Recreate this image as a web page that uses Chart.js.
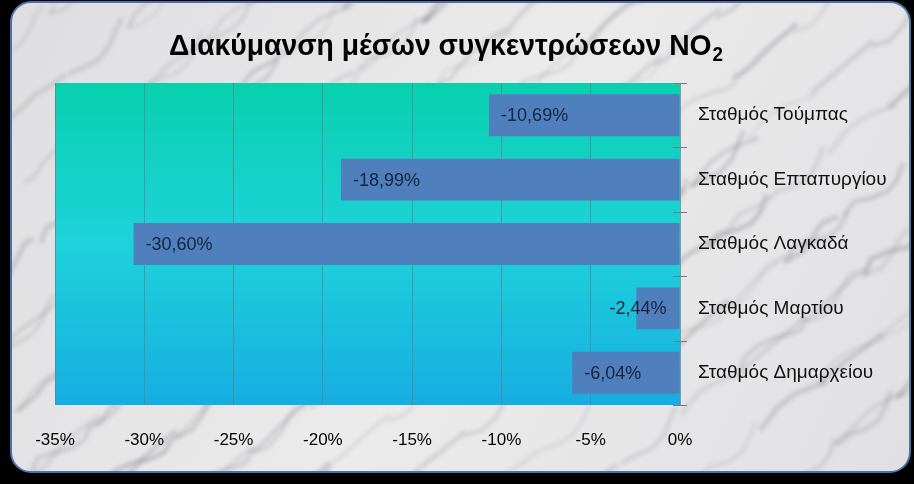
<!DOCTYPE html>
<html>
<head>
<meta charset="utf-8">
<script src="https://cdn.jsdelivr.net/npm/chart.js@4.4.1/dist/chart.umd.min.js"></script>
<style>
  html, body { margin: 0; padding: 0; background: #000; }
  #wrap { width: 914px; height: 484px; }
</style>
</head>
<body>
<div id="wrap"><canvas id="no2Chart" width="914" height="484"></canvas></div>
<script>
const stations = ["Σταθμός Τούμπας", "Σταθμός Επταπυργίου", "Σταθμός Λαγκαδά", "Σταθμός Μαρτίου", "Σταθμός Δημαρχείου"];
const changes = [-10.69, -18.99, -30.60, -2.44, -6.04];
const xTicks = [-35, -30, -25, -20, -15, -10, -5, 0];
const titleMain = "Διακύμανση μέσων συγκεντρώσεων NO";
const titleSub = "2";

function fmtPct(v) {
    return v.toFixed(2).replace(".", ",") + "%";
}

// panel, marble-ish texture, plot gradient and title
const backdrop = {
    id: "backdrop",
    beforeDraw(chart) {
        const ctx = chart.ctx;
        const area = chart.chartArea;
        ctx.save();
        ctx.fillStyle = "#000";
        ctx.fillRect(0, 0, chart.width, chart.height);

        ctx.beginPath();
        ctx.roundRect(11, 2, 899, 470, 20);
        const g = ctx.createLinearGradient(0, 0, 914, 484);
        g.addColorStop(0, "#dedee0");
        g.addColorStop(0.5, "#ebebec");
        g.addColorStop(1, "#e0e0e2");
        ctx.fillStyle = g;
        ctx.fill();

        ctx.save();
        ctx.clip();
        ctx.filter = "blur(2px)";
        for (let i = 0; i < 160; i++) {
            const sx = (i * 173) % 960 - 30;
            const sy = (i * 89) % 520;
            ctx.beginPath();
            ctx.moveTo(sx, sy);
            for (let k = 1; k <= 5; k++) {
                ctx.lineTo(sx + k * 12 + Math.sin(i + k) * 7, sy - k * 10 + Math.cos(i * 2 + k) * 6);
            }
            ctx.strokeStyle = "rgba(105,105,112," + (0.16 + (i % 4) * 0.06) + ")";
            ctx.lineWidth = 2 + (i % 3);
            ctx.stroke();
        }
        ctx.filter = "none";
        ctx.restore();

        ctx.beginPath();
        ctx.roundRect(11, 2, 899, 470, 20);
        ctx.strokeStyle = "#4a72a8";
        ctx.lineWidth = 2;
        ctx.stroke();

        const pg = ctx.createLinearGradient(0, area.top, 0, area.bottom);
        pg.addColorStop(0, "#08d0ae");
        pg.addColorStop(0.5, "#1ed2da");
        pg.addColorStop(1, "#16ade2");
        ctx.fillStyle = pg;
        ctx.fillRect(area.left, area.top, area.right - area.left, area.bottom - area.top);

        // title with subscript, slightly condensed like the original
        ctx.fillStyle = "#000";
        ctx.textBaseline = "alphabetic";
        ctx.textAlign = "left";
        ctx.font = "bold 30px 'Liberation Sans', Arial, sans-serif";
        const wMain = ctx.measureText(titleMain).width;
        ctx.font = "bold 20px 'Liberation Sans', Arial, sans-serif";
        const wSub = ctx.measureText(titleSub).width;
        const sx = 554 / (wMain + wSub + 1);
        ctx.translate(446 - 277, 0);
        ctx.scale(sx, 1);
        ctx.font = "bold 30px 'Liberation Sans', Arial, sans-serif";
        ctx.fillText(titleMain, 0, 55);
        ctx.font = "bold 20px 'Liberation Sans', Arial, sans-serif";
        ctx.fillText(titleSub, wMain + 1, 61);
        ctx.restore();
    }
};

// value labels and category tick marks
const barLabels = {
    id: "barLabels",
    afterDatasetsDraw(chart) {
        const ctx = chart.ctx;
        const yScale = chart.scales.y;
        const xScale = chart.scales.x;
        ctx.save();
        ctx.strokeStyle = "#6f7f86";
        ctx.lineWidth = 1;
        const x0 = xScale.getPixelForValue(0);
        for (let i = -1; i < stations.length; i++) {
            const y = Math.round((yScale.getPixelForValue(i) + yScale.getPixelForValue(i + 1)) / 2) + 0.5;
            ctx.beginPath();
            ctx.moveTo(x0 - 7, y);
            ctx.lineTo(x0 + 7, y);
            ctx.stroke();
        }

        ctx.font = "18px 'Liberation Sans', Arial, sans-serif";
        ctx.fillStyle = "#17243d";
        ctx.textBaseline = "middle";
        ctx.textAlign = "left";
        chart.getDatasetMeta(0).data.forEach((bar, i) => {
            const txt = fmtPct(changes[i]);
            const w = ctx.measureText(txt).width;
            const tx = Math.min(bar.x + 12, bar.base - 13 - w);
            ctx.fillText(txt, tx, bar.y + 1);
        });
        ctx.restore();
    }
};

new Chart(document.getElementById("no2Chart"), {
    type: "bar",
    data: {
        labels: stations,
        datasets: [{
            data: changes,
            backgroundColor: "#4f7fbd",
            borderWidth: 0,
            barPercentage: 0.65,
            categoryPercentage: 1.0
        }]
    },
    options: {
        indexAxis: "y",
        responsive: false,
        animation: false,
        layout: { padding: { left: 55, top: 83, right: 0, bottom: 0 } },
        plugins: {
            legend: { display: false },
            tooltip: { enabled: false },
            title: { display: false }
        },
        scales: {
            x: {
                min: -35,
                max: 0,
                afterBuildTicks: scale => { scale.ticks = xTicks.map(v => ({ value: v })); },
                afterFit: scale => { scale.height = 79; },
                grid: { color: "rgba(95,130,140,0.75)", drawTicks: false },
                border: { display: false },
                ticks: {
                    padding: 25,
                    color: "#000",
                    font: { family: "'Liberation Sans', Arial, sans-serif", size: 17 },
                    callback: v => v + "%"
                }
            },
            y: {
                position: "right",
                afterFit: scale => { scale.width = 234; },
                grid: { display: false, drawTicks: false },
                border: { display: false },
                ticks: {
                    padding: 18,
                    color: "#111",
                    font: { family: "'Liberation Sans', Arial, sans-serif", size: 19 }
                }
            }
        }
    },
    plugins: [backdrop, barLabels]
});
</script>
</body>
</html>
